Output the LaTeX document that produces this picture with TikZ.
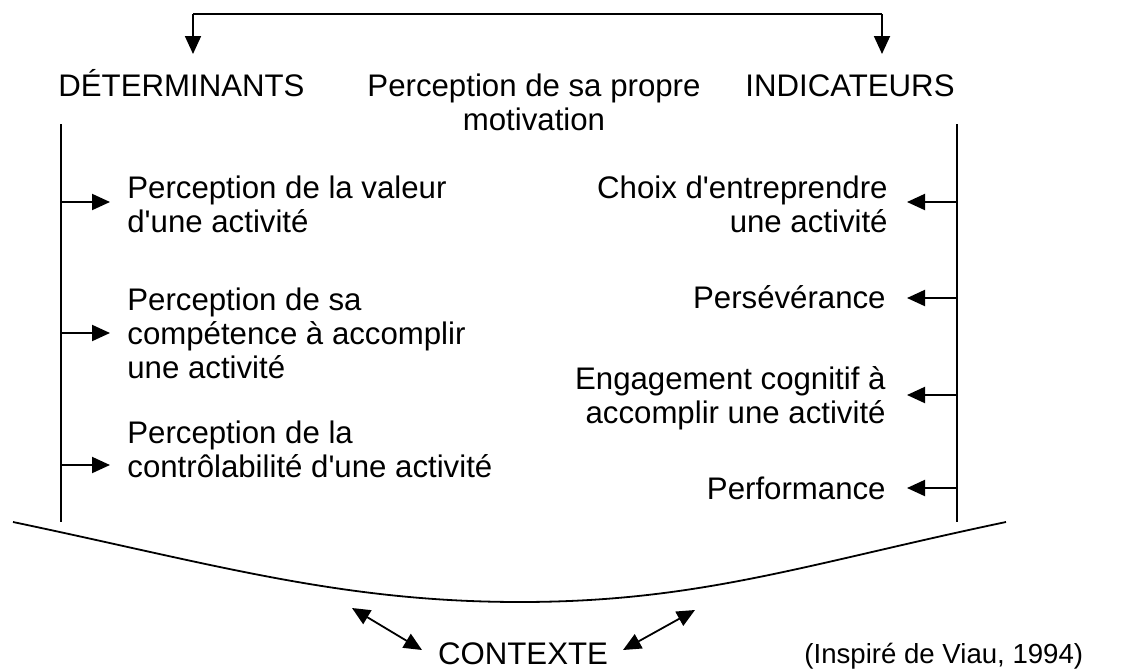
\documentclass[tikz,border=0pt]{standalone}
\usepackage{fontspec}
\setmainfont{Liberation Sans}
\usetikzlibrary{arrows.meta}
\newcommand{\ap}{\textquotesingle}
\begin{document}
\begin{tikzpicture}[x=0.5pt,y=-0.5pt,
  lbl/.style={inner sep=0pt, font=\fontsize{15.6}{17}\selectfont},
  note/.style={inner sep=0pt, font=\fontsize{13.8}{16}\selectfont},
  tip/.style={-{Triangle[length=9pt,width=8pt]}},
  rail/.style={line width=1pt},
  feed/.style={line width=1pt, tip},
  bracket/.style={line width=0.9pt, tip},
  link/.style={line width=0.9pt, {Triangle[length=9pt,width=8pt]}-{Triangle[length=9pt,width=8pt]}},
  ground/.style={line width=0.9pt}]
\useasboundingbox (0,0) rectangle (1125,669);

% headings
\node[lbl, anchor=base west] (det) at (58,96) {DÉTERMINANTS};
\node[lbl, anchor=north, align=center] (mot) at (534,73) {Perception de sa propre\\motivation};
\node[lbl, anchor=base west] (ind) at (745,96) {INDICATEURS};

% top bracket between the two columns
\coordinate (bl) at (193,14);
\coordinate (br) at (882,14);
\coordinate (dl) at (193,54);
\coordinate (dr) at (882,54);
\draw[bracket] (bl) -- (dl);
\draw[bracket] (br) -- (dr);
\draw[line width=0.9pt] (bl) -- (br);

% vertical rails
\coordinate (lt) at (61,124);
\coordinate (lb) at (61,522);
\coordinate (rt) at (957,124);
\coordinate (rb) at (957,522);
\draw[rail] (lt) -- (lb);
\draw[rail] (rt) -- (rb);

% determinants
\node[lbl, anchor=west, align=left] (v1) at (127,204) {Perception de la valeur\\d\ap une activité};
\node[lbl, anchor=west, align=left] (v2) at (127,333) {Perception de sa\\compétence à accomplir\\une activité};
\node[lbl, anchor=west, align=left] (v3) at (127,449) {Perception de la\\contrôlabilité d\ap une activité};
\coordinate (v1in) at (110,202);
\coordinate (v2in) at (110,333);
\coordinate (v3in) at (110,465);
\draw[feed] (lt |- v1in) -- (v1in);
\draw[feed] (lt |- v2in) -- (v2in);
\draw[feed] (lt |- v3in) -- (v3in);

% indicators
\node[lbl, anchor=east, align=right] (i1) at (888,204) {Choix d\ap entreprendre\\une activité};
\node[lbl, anchor=east, align=right] (i2) at (886,297) {Persévérance};
\node[lbl, anchor=east, align=right] (i3) at (886,398) {Engagement cognitif à\\accomplir une activité};
\node[lbl, anchor=east, align=right] (i4) at (886,488) {Performance};
\coordinate (i1in) at (907,202);
\coordinate (i2in) at (907,298);
\coordinate (i3in) at (907,395);
\coordinate (i4in) at (907,488);
\draw[feed] (rt |- i1in) -- (i1in);
\draw[feed] (rt |- i2in) -- (i2in);
\draw[feed] (rt |- i3in) -- (i3in);
\draw[feed] (rt |- i4in) -- (i4in);

% context curve
\coordinate (gl) at (13,522);
\coordinate (gm) at (520,602);
\coordinate (gr) at (1006,522);
\draw[ground] (gl) .. controls (213,564) and (340,602) .. (gm)
              .. controls (700,602) and (806,564) .. (gr);

% context
\node[lbl, anchor=base] (ctx) at (523,664) {CONTEXTE};
\coordinate (cl) at (352,608);
\coordinate (cla) at (422,650);
\coordinate (cr) at (695,610);
\coordinate (cra) at (623,650);
\draw[link] (cl) -- (cla);
\draw[link] (cra) -- (cr);

\node[note, anchor=base west] (src) at (804,663) {(Inspiré de Viau, 1994)};
\end{tikzpicture}
\end{document}
